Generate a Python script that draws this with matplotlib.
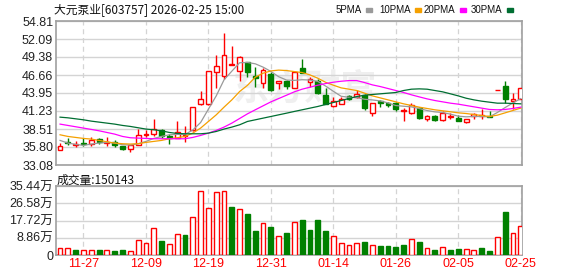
import matplotlib
matplotlib.use('Agg')
import matplotlib.pyplot as plt
import numpy as np

plt.rcParams['font.family'] = ['Liberation Sans', 'Noto Sans CJK SC', 'DejaVu Sans']

# 行情数据 (大元泵业 603757, 日K)
dates = ['11-24', '11-25', '11-26', '11-27', '11-28', '12-01', '12-02', '12-03', '12-04', '12-05',
         '12-08', '12-09', '12-10', '12-11', '12-12', '12-15', '12-16', '12-17', '12-18', '12-19',
         '12-22', '12-23', '12-24', '12-25', '12-26', '12-29', '12-30', '12-31', '01-05', '01-06',
         '01-07', '01-08', '01-09', '01-12', '01-13', '01-14', '01-15', '01-16', '01-19', '01-20',
         '01-21', '01-22', '01-23', '01-26', '01-27', '01-28', '01-29', '01-30', '02-02', '02-03',
         '02-04', '02-05', '02-06', '02-09', '02-10', '02-11', '02-12', '02-13', '02-24', '02-25']
label_dates = ['11-27', '12-09', '12-19', '12-31', '01-14', '01-26', '02-05', '02-25']

opens = [35.33, 36.49, 36.09, 36.34, 36.19, 36.99, 36.44, 36.59, 35.89, 35.49,
         36.04, 37.54, 37.74, 38.40, 37.39, 37.09, 37.44, 38.35, 42.26, 42.26,
         47.08, 46.58, 48.13, 47.33, 48.58, 46.53, 45.52, 46.83, 45.42, 45.72,
         44.77, 47.73, 45.67, 45.77, 43.67, 41.91, 42.36, 43.51, 43.31, 43.67,
         41.00, 42.76, 42.41, 42.41, 41.21, 41.00, 41.66, 40.00, 40.40, 39.80,
         40.30, 40.10, 39.55, 40.40, 40.40, 40.50, 44.37, 45.02, 42.81, 43.11]
highs = [36.39, 37.14, 36.64, 37.14, 37.24, 37.09, 37.24, 36.79, 35.99, 36.04,
         38.45, 38.30, 39.95, 38.55, 37.74, 39.75, 38.99, 41.81, 44.27, 47.23,
         49.69, 52.95, 51.04, 49.54, 48.58, 47.93, 47.78, 47.08, 45.72, 45.92,
         47.33, 49.09, 46.43, 46.02, 44.67, 43.41, 43.41, 43.67, 44.37, 43.82,
         42.41, 42.91, 42.66, 42.66, 41.66, 42.41, 41.81, 40.70, 40.65, 41.16,
         41.00, 40.65, 40.05, 40.90, 41.51, 41.16, 44.37, 45.77, 43.92, 44.87]
lows = [35.33, 36.14, 35.84, 35.99, 35.99, 36.24, 35.99, 35.84, 35.28, 34.98,
        36.04, 37.29, 37.39, 37.14, 36.24, 37.09, 36.49, 38.25, 42.06, 42.11,
        44.77, 46.08, 48.13, 45.77, 46.43, 44.92, 44.77, 44.27, 44.62, 44.62,
        44.67, 46.98, 44.92, 43.82, 42.26, 41.81, 42.26, 42.91, 43.16, 41.31,
        40.50, 41.76, 41.76, 41.26, 39.65, 40.75, 40.00, 39.75, 39.65, 39.65,
        40.00, 39.65, 39.35, 40.05, 40.05, 40.30, 44.37, 42.51, 41.56, 43.01]
closes = [35.99, 36.34, 36.24, 36.19, 36.84, 36.59, 36.59, 36.04, 35.44, 36.04,
          37.59, 37.69, 38.50, 37.39, 37.14, 37.99, 37.59, 41.81, 43.01, 47.23,
          47.98, 49.69, 48.38, 49.34, 47.18, 46.18, 47.43, 44.37, 45.72, 45.07,
          47.08, 46.98, 46.07, 43.97, 42.26, 42.81, 43.06, 43.11, 43.72, 41.66,
          42.41, 42.41, 42.11, 41.51, 41.41, 42.16, 40.10, 40.50, 39.80, 40.90,
          40.50, 39.65, 40.05, 40.75, 40.55, 40.30, 44.37, 43.11, 43.06, 44.72]

ma5 = [36.79, 36.39, 36.19, 36.04, 36.24, 36.39, 36.49, 36.39, 36.14, 36.09,
       36.29, 36.64, 37.09, 37.39, 37.64, 37.70, 37.69, 38.36, 39.49, 41.51,
       43.51, 45.93, 47.24, 48.51, 48.55, 48.35, 47.85, 47.20, 46.40, 45.90,
       45.85, 45.95, 45.90, 45.70, 45.00, 44.20, 43.45, 43.30, 43.25, 43.00,
       42.90, 42.75, 42.45, 42.05, 41.95, 41.85, 41.60, 41.30, 41.10, 41.00,
       40.75, 40.45, 40.35, 40.40, 40.40, 40.35, 41.00, 41.75, 42.45, 43.10]
ma10 = [37.64, 37.39, 37.24, 37.09, 36.99, 36.79, 36.59, 36.39, 36.29, 36.24,
        36.29, 36.49, 36.64, 36.79, 37.04, 37.19, 37.39, 37.89, 38.65, 39.65,
        40.65, 41.81, 42.91, 44.17, 45.10, 46.33, 46.93, 47.28, 47.40, 47.33,
        47.18, 47.03, 46.68, 46.18, 45.57, 45.12, 44.72, 44.52, 44.32, 43.92,
        43.51, 43.21, 42.91, 42.61, 42.31, 42.06, 41.81, 41.61, 41.41, 41.26,
        41.11, 40.95, 40.85, 40.70, 40.55, 40.40, 40.60, 40.95, 41.31, 41.66]
ma20 = [39.25, 39.05, 38.85, 38.65, 38.45, 38.24, 37.99, 37.74, 37.39, 37.19,
        37.14, 37.09, 37.04, 37.04, 37.04, 37.04, 37.04, 37.24, 37.54, 37.89,
        38.30, 38.80, 39.40, 40.10, 40.80, 41.41, 42.01, 42.61, 43.11, 43.61,
        44.12, 44.52, 44.82, 45.12, 45.37, 45.57, 45.72, 45.82, 45.82, 45.52,
        45.17, 44.92, 44.62, 44.32, 44.02, 43.67, 43.36, 43.06, 42.81, 42.61,
        42.41, 42.26, 42.06, 41.86, 41.66, 41.46, 41.41, 41.46, 41.61, 41.81]
ma30 = [40.30, 40.20, 40.05, 39.90, 39.70, 39.55, 39.40, 39.25, 39.05, 38.90,
        38.70, 38.50, 38.40, 38.24, 37.99, 37.84, 37.79, 37.79, 37.79, 37.89,
        38.14, 38.50, 38.80, 39.15, 39.65, 39.90, 40.15, 40.40, 40.65, 40.90,
        41.16, 41.41, 41.66, 41.91, 42.21, 42.51, 42.81, 43.11, 43.41, 43.61,
        43.72, 43.82, 43.92, 44.02, 44.32, 44.52, 44.57, 44.52, 44.32, 44.12,
        43.82, 43.51, 43.16, 42.91, 42.71, 42.56, 42.41, 42.41, 42.36, 42.31]

# 成交量(万手)
volume = [3.4, 3.4, 2.6, 2.4, 2.4, 2.6, 2.4, 2.1, 2.6, 1.9,
          7.5, 6.2, 13.7, 7.2, 5.5, 10.8, 10.3, 19.3, 32.7, 24.0,
          32.2, 32.7, 24.7, 23.5, 21.2, 12.3, 16.3, 14.4, 9.6, 11.3,
          17.0, 18.0, 12.8, 18.0, 12.3, 9.6, 6.0, 5.0, 6.0, 6.7,
          5.0, 4.6, 4.6, 4.1, 5.1, 8.0, 6.7, 3.4, 2.6, 3.9,
          2.6, 3.1, 2.9, 2.4, 3.6, 2.1, 9.1, 22.1, 11.1, 15.0143]
vol_up = [1, 1, 0, 1, 1, 0, 1, 0, 0, 1,
          1, 1, 1, 0, 1, 1, 0, 1, 1, 1,
          1, 1, 0, 1, 0, 0, 1, 0, 1, 0,
          1, 0, 0, 0, 0, 1, 1, 1, 1, 0,
          1, 0, 0, 0, 0, 1, 0, 1, 0, 1,
          0, 0, 1, 1, 0, 0, 1, 0, 1, 1]

price_ticks = [33.08, 35.80, 38.51, 41.23, 43.95, 46.66, 49.38, 52.09, 54.81]
vol_ticks = [0, 8.86, 17.72, 26.58, 35.44]

ma_names = ['5PMA', '10PMA', '20PMA', '30PMA']
ma_colors = ['#9a9a9a', '#f5a000', '#ff00ff', '#006e32']

RED = '#ff0000'
GREEN = '#008000'
GRID = '#d4d4d4'
FRAME = '#a0a0a0'

x = np.arange(len(dates))
opens = np.array(opens); closes = np.array(closes)
highs = np.array(highs); lows = np.array(lows)
up = closes >= opens

fig = plt.figure(figsize=(5.78, 2.76), dpi=100)
ax = fig.add_axes([56 / 578, 1 - 165 / 276, 466 / 578, 144 / 276])
axv = fig.add_axes([56 / 578, 1 - 255 / 276, 466 / 578, 69 / 276])

tick_pos = [dates.index(d) for d in label_dates]

for a in (ax, axv):
    a.set_xlim(-0.52, len(dates) - 0.84)
    for s in a.spines.values():
        s.set_color(FRAME)
        s.set_linewidth(1.2)
    a.set_xticks(tick_pos)
    for t in tick_pos:
        a.axvline(t, color=GRID, linestyle=(0, (4, 3)), linewidth=0.9, zorder=0)
    a.tick_params(length=0, labelsize=9, colors='#222222', pad=2)

# 水印
ax.text(0.535, 0.53, '东方财富', transform=ax.transAxes, fontsize=26, fontweight='bold',
        family=['Noto Sans CJK SC'], color='#efefef', ha='center', va='center',
        style='italic', zorder=0.5)

# K线
ax.vlines(x, lows, highs, colors=np.where(up, RED, GREEN), linewidth=1, zorder=2)
body_h = np.maximum(np.abs(closes - opens), 0.02)
ax.bar(x, body_h, bottom=np.minimum(opens, closes), width=0.62,
       color=np.where(up, 'white', GREEN), edgecolor=np.where(up, RED, GREEN),
       linewidth=1, zorder=3)

for vals, col in zip([ma5, ma10, ma20, ma30], ma_colors):
    ax.plot(x, vals, color=col, linewidth=0.9, zorder=4)

ax.set_ylim(price_ticks[0], price_ticks[-1])
ax.set_yticks(price_ticks)
ax.set_yticklabels([f'{v:.2f}' for v in price_ticks])
ax.yaxis.grid(True, color=GRID, linewidth=1)
ax.set_axisbelow(True)
ax.set_xticklabels([])

# 成交量
vol_up = np.array(vol_up, dtype=bool)
axv.bar(x, volume, width=0.62, color=np.where(vol_up, 'white', GREEN),
        edgecolor=np.where(vol_up, RED, GREEN), linewidth=1, zorder=3)
axv.set_ylim(0, vol_ticks[-1])
axv.set_yticks(vol_ticks)
axv.set_yticklabels(['0'] + [f'{v:.2f}万' for v in vol_ticks[1:]])
axv.yaxis.grid(True, color=GRID, linewidth=1)
axv.set_axisbelow(True)
axv.set_xticklabels(label_dates, color=RED, fontsize=9)

# 标题与图例
fig.text(54 / 578, 1 - 10 / 276, '大元泵业[603757] 2026-02-25 15:00', fontsize=8.5,
         family=['Noto Sans CJK SC'], va='center', ha='left', color='#111111')
legend_text_x = [336, 379, 424, 471]
legend_box_x = [366, 415, 460, 507]
for name, col, tx, bx in zip(ma_names, ma_colors, legend_text_x, legend_box_x):
    fig.text(tx / 578, 1 - 10 / 276, name, fontsize=7, va='center', ha='left',
             color='#111111')
    fig.patches.append(plt.Rectangle((bx / 578, 1 - 12 / 276), 6 / 578, 4 / 276,
                                     transform=fig.transFigure, color=col, figure=fig))
fig.text(57 / 578, 1 - 180 / 276, '成交量:150143', fontsize=8.5,
         family=['Noto Sans CJK SC'], va='center', ha='left', color='#111111')

fig.savefig('out.png', dpi=100)
